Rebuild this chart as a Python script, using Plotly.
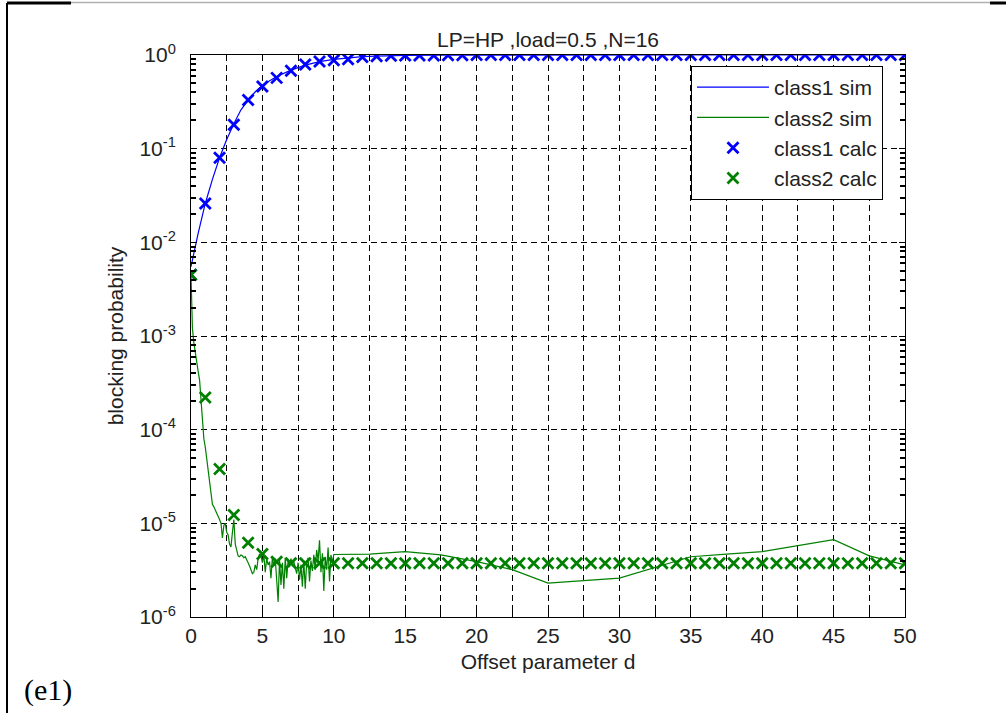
import plotly.graph_objects as go

# ---------------- data ----------------
blue_sim_x = [0, 0.25, 0.5, 0.75, 1, 1.5, 2, 2.5, 3, 3.5, 4, 4.5, 5, 6, 7, 8, 9, 10,
              11, 12, 13, 14, 15, 17.5, 20, 25, 30, 35, 40, 45, 50]
blue_sim_y = [0.0055, 0.0085, 0.0125, 0.018, 0.026, 0.047, 0.08, 0.125, 0.185, 0.26,
              0.33, 0.405, 0.475, 0.59, 0.69, 0.78, 0.85, 0.90,
              0.935, 0.96, 0.975, 0.985, 0.99, 0.995, 0.998, 1.0, 1.0, 1.0, 1.0, 1.0, 1.0]

green_sim_x = [0, 0.05, 0.1, 0.2, 0.3, 0.4, 0.5, 0.6, 0.7, 0.8, 0.9, 1.0, 1.1, 1.2, 1.3,
               1.4, 1.5, 1.6, 1.7, 1.8, 1.9, 2.0, 2.1, 2.2, 2.3, 2.4, 2.5, 2.6, 2.7, 2.8,
               2.9, 3.0, 3.1, 3.2, 3.3, 3.4, 3.5, 3.6, 3.7, 3.8, 3.9, 4.0, 4.1, 4.2, 4.3,
               4.4, 4.5, 4.6, 4.7, 4.8, 4.9, 5.0, 5.1, 5.2, 5.3, 5.4, 5.5, 5.6, 5.7, 5.8,
               5.9, 6.0, 6.1, 6.2, 6.3, 6.4, 6.5, 6.6, 6.7, 6.8, 6.9, 7.0, 7.1, 7.2, 7.3,
               7.4, 7.5, 7.6, 7.7, 7.8, 7.9, 8.0, 8.1, 8.2, 8.3, 8.4, 8.5, 8.6, 8.7, 8.8,
               8.9, 9.0, 9.1, 9.2, 9.3, 9.4, 9.5, 9.6, 9.7, 9.8, 9.9, 10.0,
               12.5, 15, 17.5, 20, 22.5, 25, 30, 35, 37.5, 40, 45, 47.5, 50]
green_sim_y = [4.5e-3, 2.5e-3, 1.2e-3, 8.5e-4, 6.5e-4, 5.5e-4, 4.2e-4, 3.4e-4, 2.0e-4,
               1.1e-4, 8e-5, 6.5e-5, 5e-5, 4e-5, 3e-5, 2.2e-5, 1.6e-5, 1.5e-5, 1.4e-5,
               1.3e-5, 1.2e-5, 1.1e-5, 1.0e-5, 7e-6, 9.5e-6, 1.0e-5, 8e-6, 7.5e-6, 6e-6,
               5.6e-6, 8e-6, 1.1e-5, 6e-6, 5e-6, 4.5e-6, 4.4e-6, 4.6e-6, 4.5e-6, 4.3e-6,
               4.4e-6, 4.0e-6, 3.8e-6, 3.5e-6, 3.2e-6, 2.9e-6, 3.0e-6, 3.6e-6, 3.2e-6,
               4.2e-6, 4.7e-6, 4.5e-6, 3.8e-6, 4.6e-6, 3.0e-6, 4.2e-6, 3.6e-6, 3.9e-6,
               2.6e-6, 4.4e-6, 3.5e-6, 4.2e-6, 2.5e-6, 1.45e-6, 4.1e-6, 2.2e-6, 3.8e-6,
               2.0e-6, 4.3e-6, 2.6e-6, 4.0e-6, 3.4e-6, 4.2e-6, 3.7e-6, 3.9e-6, 3.3e-6,
               2.9e-6, 3.8e-6, 2.5e-6, 3.6e-6, 2.1e-6, 4.0e-6, 2.0e-6, 3.8e-6, 4.3e-6,
               2.4e-6, 4.0e-6, 3.1e-6, 4.6e-6, 3.2e-6, 5.2e-6, 4.0e-6, 6.6e-6, 3.0e-6,
               4.8e-6, 1.9e-6, 4.4e-6, 3.2e-6, 5.5e-6, 2.4e-6, 4.6e-6, 3.8e-6, 4.65e-6,
               4.7e-6, 5.0e-6, 4.6e-6, 3.9e-6, 3.2e-6, 2.3e-6, 2.6e-6, 4.4e-6, 4.7e-6,
               5.0e-6, 6.7e-6, 4.5e-6, 3.6e-6]

calc_x = list(range(0, 51))
blue_calc_y = [0.0045, 0.026, 0.080, 0.18, 0.33, 0.46, 0.57, 0.68, 0.79, 0.85, 0.88,
               0.90, 0.95, 0.97, 0.98, 0.985, 0.99, 0.99, 0.995, 0.995] + [1.0] * 31
green_calc_y = [4.5e-3, 2.2e-4, 3.8e-5, 1.23e-5, 6.2e-6, 4.7e-6, 3.9e-6] + [3.75e-6] * 44

title_text = "LP=HP ,load=0.5 ,N=16"
x_label = "Offset parameter d"
y_label = "blocking probability"
x_tick_vals = [i * 2.5 for i in range(21)]
x_tick_text = [str(int(v)) if v % 5 == 0 else "" for v in x_tick_vals]
y_tick_vals = [1e-6, 1e-5, 1e-4, 1e-3, 1e-2, 1e-1, 1]
y_tick_text = ["10<sup>-6</sup>", "10<sup>-5</sup>", "10<sup>-4</sup>", "10<sup>-3</sup>",
               "10<sup>-2</sup>", "10<sup>-1</sup>", "10<sup>0</sup>"]
y_minor_vals = [m * d for d in y_tick_vals[:-1] for m in range(2, 10)]

BLUE = "#0000ff"
GREEN = "#008000"
FONT = "Liberation Sans, Arial, sans-serif"
FS = 21
TXT = "#222222"

fig = go.Figure()
fig.add_trace(go.Scatter(x=blue_sim_x, y=blue_sim_y, mode="lines", name="class1 sim",
                         line=dict(color=BLUE, width=1.2), legendgroup="a"))
fig.add_trace(go.Scatter(x=green_sim_x, y=green_sim_y, mode="lines", name="class2 sim",
                         line=dict(color=GREEN, width=1.2), legendgroup="b"))
fig.add_trace(go.Scatter(x=calc_x, y=blue_calc_y, mode="markers", name="class1 calc",
                         marker=dict(symbol="x-thin", size=11, color=BLUE,
                                     line=dict(color=BLUE, width=2.8)), legendgroup="c"))
fig.add_trace(go.Scatter(x=calc_x, y=green_calc_y, mode="markers", name="class2 calc",
                         marker=dict(symbol="x-thin", size=11, color=GREEN,
                                     line=dict(color=GREEN, width=2.8)), legendgroup="d"))

L, R, T, B = 191, 101, 55, 96
W, H = 1006, 713
pw, ph = W - L - R, H - T - B

def px2paper(px, py):
    return (px - L) / pw, (H - B - py) / ph

axis_common = dict(showline=True, linecolor="black", linewidth=1, mirror="ticks",
                   ticks="inside", tickcolor="black", ticklen=6, tickwidth=1,
                   showgrid=True, gridcolor="black", gridwidth=1, griddash="6px,4px",
                   zeroline=False,
                   tickfont=dict(family=FONT, size=FS, color=TXT))

fig.update_xaxes(range=[0, 50], tickmode="array", tickvals=x_tick_vals, ticktext=x_tick_text,
                 title=dict(text=x_label, font=dict(family=FONT, size=FS, color=TXT),
                            standoff=8),
                 **axis_common)
fig.update_yaxes(type="log", range=[-6, 0], tickmode="array", tickvals=y_tick_vals,
                 ticktext=y_tick_text, ticklabelstandoff=10,
                 minor=dict(tickmode="array", tickvals=y_minor_vals, ticks="inside",
                            ticklen=5, tickwidth=1.5, tickcolor="black", showgrid=False),
                 title=dict(text=y_label, font=dict(family=FONT, size=FS, color=TXT),
                            standoff=10),
                 **axis_common)

lx, ly = px2paper(691, 66)
fig.update_layout(
    width=W, height=H,
    margin=dict(l=L, r=R, t=T, b=B, pad=0),
    paper_bgcolor="white", plot_bgcolor="white",
    title=dict(text=title_text, x=0.5, xanchor="center", xref="paper",
               y=1 - 40 / H, yanchor="middle",
               font=dict(family=FONT, size=FS, color=TXT)),
    legend=dict(x=lx, y=ly, xanchor="left", yanchor="top",
                bgcolor="white", bordercolor="black", borderwidth=1,
                font=dict(family=FONT, size=FS, color=TXT),
                traceorder="grouped", tracegroupgap=0, itemwidth=72),
    showlegend=True,
)

# figure frame lines (left and top edges of the page border)
x0, y0 = px2paper(7, 3)
x1, y1 = px2paper(7, 713)
fig.add_shape(type="line", xref="paper", yref="paper", x0=x0, y0=y0, x1=x1, y1=y1,
              line=dict(color="black", width=2))
xa, ya = px2paper(7, 3)
xb, yb = px2paper(71, 3)
fig.add_shape(type="line", xref="paper", yref="paper", x0=xa, y0=ya, x1=xb, y1=yb,
              line=dict(color="black", width=3))
xc, yc = px2paper(71, 2.5)
xd, yd = px2paper(990, 2.5)
fig.add_shape(type="line", xref="paper", yref="paper", x0=xc, y0=yc, x1=xd, y1=yd,
              line=dict(color="#b0b0b0", width=1.5))
xe, ye = px2paper(990, 3)
xf, yf = px2paper(1006, 3)
fig.add_shape(type="line", xref="paper", yref="paper", x0=xe, y0=ye, x1=xf, y1=yf,
              line=dict(color="black", width=3))

ex, ey = px2paper(22, 690)
fig.add_annotation(text="(e1)", xref="paper", yref="paper", x=ex, y=ey,
                   xanchor="left", yanchor="middle", showarrow=False,
                   font=dict(family="Liberation Serif, Times New Roman, serif", size=30,
                             color="black"))

fig.write_html("out.html")
